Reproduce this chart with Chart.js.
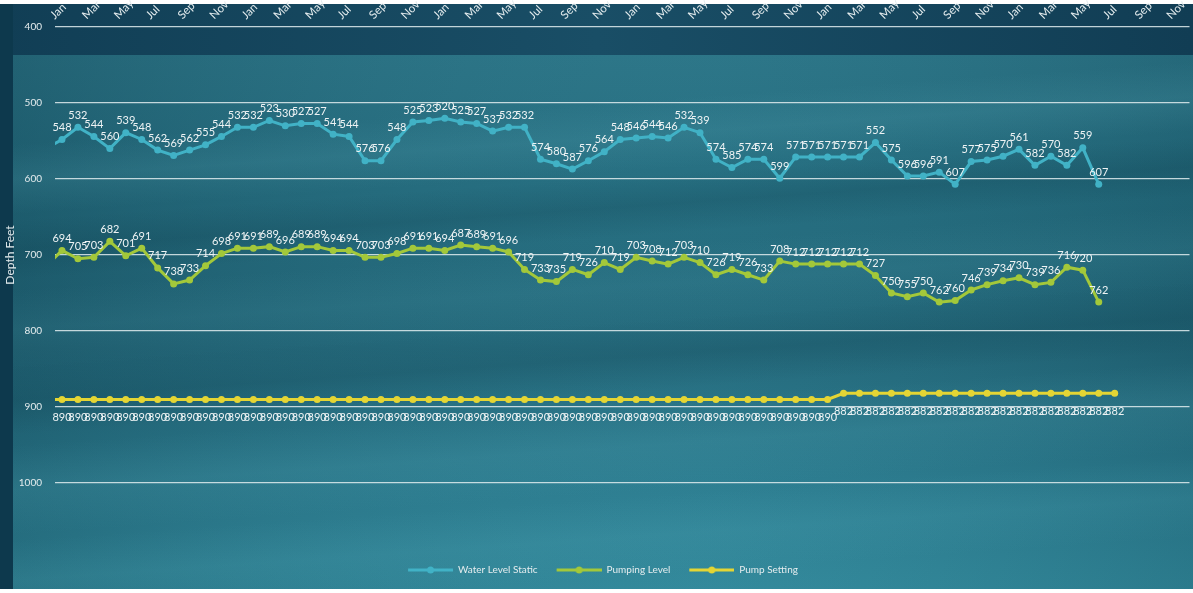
<!DOCTYPE html>
<html>
<head>
<meta charset="utf-8">
<title>Depth Feet</title>
<script src="https://cdn.jsdelivr.net/npm/chart.js@4.4.1/dist/chart.umd.min.js"></script>
<style>
  html, body { margin: 0; padding: 0; background: #fff; }
  #wrap { position: relative; width: 1193px; height: 593px; }
</style>
</head>
<body>
<div id="wrap"><canvas id="depthChart"></canvas></div>
<script>
// Месяцы по оси X (подписи через один), первая точка каждой серии - декабрь,
// она уходит за левый край области построения.
const monthNames = ['Jan', 'Feb', 'Mar', 'Apr', 'May', 'Jun', 'Jul', 'Aug', 'Sep', 'Oct', 'Nov', 'Dec'];
const depthTicks = [400, 500, 600, 700, 800, 900, 1000];

const waterLevelStatic = [
  560,
  548, 532, 544, 560, 539, 548, 562, 569, 562, 555, 544, 532,
  532, 523, 530, 527, 527, 541, 544, 576, 576, 548, 525, 523,
  520, 525, 527, 537, 532, 532, 574, 580, 587, 576, 564, 548,
  546, 544, 546, 532, 539, 574, 585, 574, 574, 599, 571, 571,
  571, 571, 571, 552, 575, 596, 596, 591, 607, 577, 575, 570,
  561, 582, 570, 582, 559, 607
];

const pumpingLevel = [
  715,
  694, 705, 703, 682, 701, 691, 717, 738, 733, 714, 698, 691,
  691, 689, 696, 689, 689, 694, 694, 703, 703, 698, 691, 691,
  694, 687, 689, 691, 696, 719, 733, 735, 719, 726, 710, 719,
  703, 708, 712, 703, 710, 726, 719, 726, 733, 708, 712, 712,
  712, 712, 712, 727, 750, 755, 750, 762, 760, 746, 739, 734,
  730, 739, 736, 716, 720, 762
];

const pumpSetting = [
  890,
  890, 890, 890, 890, 890, 890, 890, 890, 890, 890, 890, 890,
  890, 890, 890, 890, 890, 890, 890, 890, 890, 890, 890, 890,
  890, 890, 890, 890, 890, 890, 890, 890, 890, 890, 890, 890,
  890, 890, 890, 890, 890, 890, 890, 890, 890, 890, 890, 890,
  890, 882, 882, 882, 882, 882, 882, 882, 882, 882, 882, 882,
  882, 882, 882, 882, 882, 882, 882
];

const COLORS = {
  static: '#41b2c6',
  pumping: '#a3c83a',
  setting: '#e4d534',
  text: '#e4ecee',
  grid: 'rgba(225, 236, 239, 0.85)',
};

function toPoints(values) {
  // индекс 0 - месяц до начала видимого окна
  return values.map((value, index) => ({ x: index - 1, y: value }));
}

function legendIcon(color) {
  const icon = document.createElement('canvas');
  icon.width = 58;
  icon.height = 10;
  const c = icon.getContext('2d');
  c.strokeStyle = color;
  c.lineWidth = 3;
  c.beginPath();
  c.moveTo(13, 5);
  c.lineTo(58, 5);
  c.stroke();
  c.fillStyle = color;
  c.beginPath();
  c.arc(35.5, 5, 3.5, 0, Math.PI * 2);
  c.fill();
  return icon;
}

// фон: тёмная рамка + "вода"
const waterBackground = {
  id: 'waterBackground',
  beforeDraw(chart) {
    const { ctx, width, height } = chart;
    ctx.save();
    ctx.fillStyle = '#ffffff';
    ctx.fillRect(0, 0, width, height);

    ctx.fillStyle = '#0d394d';
    ctx.fillRect(0, 4, width, 585);

    const top = ctx.createLinearGradient(0, 0, width, 0);
    top.addColorStop(0, '#113e55');
    top.addColorStop(0.5, '#194e66');
    top.addColorStop(1, '#113d54');
    ctx.fillStyle = top;
    ctx.fillRect(13, 4, width - 13, 51);

    const base = ctx.createLinearGradient(0, 55, 0, 589);
    base.addColorStop(0, '#2a7284');
    base.addColorStop(0.25, '#236a7c');
    base.addColorStop(0.55, '#226678');
    base.addColorStop(0.8, '#2b7b8e');
    base.addColorStop(1, '#318799');
    ctx.fillStyle = base;
    ctx.fillRect(13, 55, width - 13, 534);

    const side = ctx.createLinearGradient(13, 0, width, 0);
    side.addColorStop(0, 'rgba(10, 50, 65, 0.25)');
    side.addColorStop(0.6, 'rgba(80, 170, 190, 0.08)');
    side.addColorStop(1, 'rgba(10, 50, 65, 0.15)');
    ctx.fillStyle = side;
    ctx.fillRect(13, 55, width - 13, 534);

    ctx.beginPath();
    ctx.rect(13, 55, width - 13, 534);
    ctx.clip();
    const streaks = [
      { y: 120, h: 70, color: '90, 170, 185', a: 0.16 },
      { y: 190, h: 60, color: '10, 55, 70', a: 0.2 },
      { y: 270, h: 80, color: '80, 160, 175', a: 0.12 },
      { y: 340, h: 70, color: '10, 55, 70', a: 0.18 },
      { y: 430, h: 90, color: '90, 175, 190', a: 0.14 },
      { y: 520, h: 80, color: '90, 180, 195', a: 0.12 },
    ];
    ctx.translate(0, 60);
    ctx.rotate(-0.07);
    streaks.forEach((s) => {
      const g = ctx.createLinearGradient(0, s.y - s.h / 2, 0, s.y + s.h / 2);
      g.addColorStop(0, `rgba(${s.color}, 0)`);
      g.addColorStop(0.5, `rgba(${s.color}, ${s.a})`);
      g.addColorStop(1, `rgba(${s.color}, 0)`);
      ctx.fillStyle = g;
      ctx.fillRect(-100, s.y - s.h / 2, width + 200, s.h);
    });
    ctx.restore();

    // заголовок оси Y - как в исходнике, чуть выше центра
    ctx.save();
    ctx.translate(10, 255);
    ctx.rotate(-Math.PI / 2);
    ctx.font = '12px Lato';
    ctx.fillStyle = COLORS.text;
    ctx.textAlign = 'center';
    ctx.textBaseline = 'middle';
    ctx.fillText('Depth Feet', 0, 0);
    ctx.restore();
  },
};

// подписи значений у точек
const pointLabels = {
  id: 'pointLabels',
  afterDatasetsDraw(chart) {
    const { ctx, chartArea } = chart;
    ctx.save();
    ctx.font = '11px Lato';
    ctx.fillStyle = '#eef3f4';
    ctx.textAlign = 'center';
    ctx.textBaseline = 'middle';
    chart.data.datasets.forEach((dataset, datasetIndex) => {
      const meta = chart.getDatasetMeta(datasetIndex);
      meta.data.forEach((point, index) => {
        if (point.x < chartArea.left || point.x > chartArea.right) {
          return;
        }
        ctx.fillText(String(dataset.data[index].y), point.x, point.y + dataset.labelShift);
      });
    });
    ctx.restore();
  },
};

function lineDataset(label, values, color, labelShift) {
  return {
    label: label,
    data: toPoints(values),
    borderColor: color,
    backgroundColor: color,
    borderWidth: 3,
    pointRadius: 3.5,
    pointHoverRadius: 3.5,
    pointBorderWidth: 0,
    tension: 0,
    labelShift: labelShift,
  };
}

const ctx = document.getElementById('depthChart').getContext('2d');
const icons = [legendIcon(COLORS.static), legendIcon(COLORS.pumping), legendIcon(COLORS.setting)];

new Chart(ctx, {
  type: 'line',
  data: {
    datasets: [
      lineDataset('Water Level Static', waterLevelStatic, COLORS.static, -12),
      lineDataset('Pumping Level', pumpingLevel, COLORS.pumping, -12),
      lineDataset('Pump Setting', pumpSetting, COLORS.setting, 18),
    ],
  },
  options: {
    responsive: true,
    maintainAspectRatio: false,
    animation: false,
    layout: { padding: { top: 0, right: 0, bottom: 8, left: 0 } },
    plugins: {
      tooltip: { enabled: false },
      legend: {
        position: 'bottom',
        labels: {
          color: COLORS.text,
          font: { family: 'Lato', size: 10 },
          usePointStyle: true,
          pointStyleWidth: 58,
          padding: 6,
          generateLabels(chart) {
            const items = Chart.defaults.plugins.legend.labels.generateLabels(chart);
            items.forEach((item, i) => { item.pointStyle = icons[i]; });
            return items;
          },
        },
      },
    },
    scales: {
      x: {
        type: 'linear',
        position: 'top',
        min: -0.4375,
        max: 70.69,
        grid: { display: false, drawTicks: false },
        border: { display: false },
        afterFit(scale) {
          scale.height = 27;
          scale.paddingLeft = 0;
          scale.paddingRight = 0;
        },
        ticks: {
          stepSize: 2,
          includeBounds: false,
          autoSkip: false,
          minRotation: 45,
          maxRotation: 45,
          padding: 5,
          color: COLORS.text,
          font: { family: 'Lato', size: 11.5 },
          callback: (value) => monthNames[((value % 12) + 12) % 12],
        },
      },
      y: {
        reverse: true,
        min: 400,
        max: 1100,
        afterBuildTicks(scale) {
          scale.ticks = depthTicks.map((value) => ({ value: value }));
        },
        afterFit(scale) {
          scale.width = 55;
          scale.paddingTop = 0;
          scale.paddingBottom = 0;
        },
        grid: { color: COLORS.grid, lineWidth: 1.2, drawTicks: false },
        border: { display: false },
        ticks: {
          padding: 13,
          color: COLORS.text,
          font: { family: 'Lato', size: 10 },
          callback: (value) => String(value),
        },
      },
    },
  },
  plugins: [waterBackground, pointLabels],
});
</script>
</body>
</html>
